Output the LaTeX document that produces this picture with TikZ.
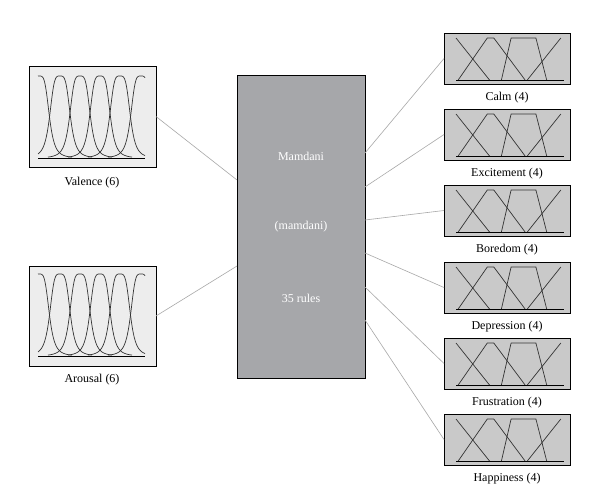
\documentclass[tikz,border=0pt]{standalone}
\usepackage{fontspec}
\setmainfont{Liberation Serif}
\definecolor{inboxfill}{HTML}{EDEDED}
\definecolor{outfill}{HTML}{C9C9C9}
\definecolor{fisfill}{HTML}{A6A7AA}
\definecolor{conncol}{HTML}{A8A8A8}
\definecolor{mfcol}{HTML}{333333}
\begin{document}
\begin{tikzpicture}[x=1pt,y=-1pt,
  inbox/.style={draw=black, line width=0.8pt, fill=inboxfill, minimum width=127pt, minimum height=101pt, inner sep=0pt, outer sep=0pt, anchor=north west},
  outbox/.style={draw=black, line width=0.8pt, fill=outfill, minimum width=126pt, minimum height=51pt, inner sep=0pt, outer sep=0pt, anchor=north west},
  fisbox/.style={draw=black, line width=0.8pt, fill=fisfill, minimum width=128pt, minimum height=303pt, inner sep=0pt, outer sep=0pt, anchor=north west},
  lbl/.style={font=\fontsize{12}{14}\selectfont, text=black, inner sep=0pt},
  fistext/.style={font=\fontsize{12}{14}\selectfont, text=white, inner sep=0pt},
  conn/.style={draw=conncol, line width=0.6pt},
  mf/.style={draw=mfcol, line width=0.7pt, line join=round},
  axisline/.style={draw=black, line width=0.9pt}]
\useasboundingbox (0,0) rectangle (599,500);
\fill[white] (0,0) rectangle (599,500);

% input boxes
\node[inbox] (val) at (29,66) {};
\node[lbl] (val-l) at (92,183) {Valence (6)};
\node[inbox, minimum height=100pt] (aro) at (29,266) {};
\node[lbl] (aro-l) at (92,380) {Arousal (6)};
\foreach \s/\b in {0/158, 200/356} {
  \draw[axisline] (38,\b) -- (145,\b);
  \foreach \c/\lo/\hi in {39/38/72, 60/38/92, 80/48/112, 100/68/132, 120/88/145, 141/108/145} {
    \draw[mf] plot[domain=\lo:\hi, samples=60, smooth] ({\x}, {\b - 82/(1+(abs(\x-\c)/10.5)^4)});
  }
}

% central box
\node[fisbox] (fis) at (237,75) {};
\node[fistext] (t1) at (301,156) {Mamdani};
\node[fistext] (t2) at (301,227) {(mamdani)};
\node[fistext] (t3) at (301,298) {35 rules};

% output boxes
\foreach \n/\t/\name in {calm/33/Calm, exc/109/Excitement, bor/185/Boredom, dep/262/Depression, fru/338/Frustration, hap/414/Happiness} {
  \node[outbox] (\n) at (444,\t) {};
  \node[lbl] (\n-l) at (507,\t+65) {\name{} (4)};
  \draw[axisline] (456,\t+47) -- (564,\t+47);
  \draw[mf] (456,\t+5) -- (489.5,\t+47);
  \draw[mf] (458.2,\t+47) -- (487.3,\t+5) -- (493.8,\t+5) -- (525.1,\t+47);
  \draw[mf] (501.4,\t+47) -- (511.1,\t+5) -- (535.9,\t+5) -- (546.7,\t+47);
  \draw[mf] (527.3,\t+47) -- (560.8,\t+5);
}

% connector end points on the central box
\coordinate (fl1) at (237,180);
\coordinate (fl2) at (237,266);
\coordinate (f1) at (365,153);
\coordinate (f2) at (365,187);
\coordinate (f3) at (365,220);
\coordinate (f4) at (365,253);
\coordinate (f5) at (365,287);
\coordinate (f6) at (365,320);

\draw[conn] (val.east) -- (fl1);
\draw[conn] (aro.east) -- (fl2);
\draw[conn] (f1) -- (calm.west);
\draw[conn] (f2) -- (exc.west);
\draw[conn] (f3) -- (bor.west);
\draw[conn] (f4) -- (dep.west);
\draw[conn] (f5) -- (fru.west);
\draw[conn] (f6) -- (hap.west);
\end{tikzpicture}
\end{document}
